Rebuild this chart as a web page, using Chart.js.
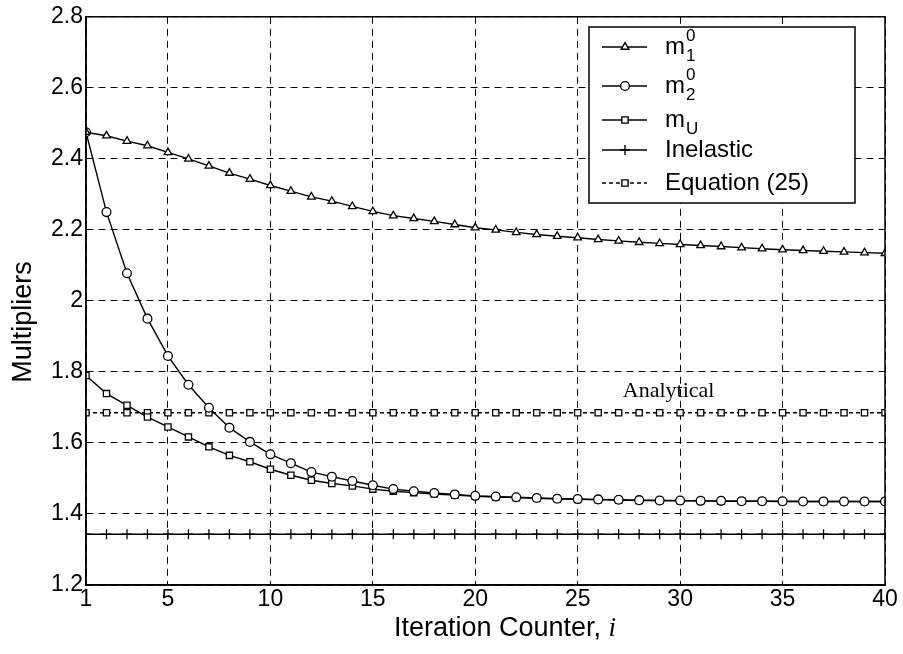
<!DOCTYPE html>
<html>
<head>
<meta charset="utf-8">
<title>Multipliers vs iteration</title>
<script src="https://cdn.jsdelivr.net/npm/chart.js@4/dist/chart.umd.min.js"></script>
<style>
  html, body { margin: 0; padding: 0; background: #fff; }
  #wrap { position: relative; width: 903px; height: 654px; }
</style>
</head>
<body>
<div id="wrap"><canvas id="chart" width="903" height="654"></canvas></div>
<script>
"use strict";

// ---- data ----
const iterations = [1, 2, 3, 4, 5, 6, 7, 8, 9, 10, 11, 12, 13, 14, 15, 16, 17, 18, 19, 20,
  21, 22, 23, 24, 25, 26, 27, 28, 29, 30, 31, 32, 33, 34, 35, 36, 37, 38, 39, 40];

const m1 = [2.475, 2.465, 2.450, 2.437, 2.418, 2.400, 2.380, 2.360, 2.343, 2.325,
  2.309, 2.293, 2.281, 2.266, 2.252, 2.240, 2.232, 2.224, 2.215, 2.206,
  2.200, 2.193, 2.187, 2.182, 2.178, 2.173, 2.169, 2.165, 2.162, 2.159,
  2.156, 2.153, 2.150, 2.147, 2.144, 2.142, 2.140, 2.138, 2.136, 2.134];

const m2 = [2.475, 2.250, 2.078, 1.950, 1.845, 1.764, 1.699, 1.643, 1.603, 1.568,
  1.543, 1.518, 1.505, 1.493, 1.481, 1.470, 1.464, 1.459, 1.455, 1.451,
  1.449, 1.447, 1.445, 1.443, 1.442, 1.441, 1.440, 1.439, 1.438, 1.438,
  1.437, 1.437, 1.436, 1.436, 1.436, 1.435, 1.435, 1.435, 1.435, 1.435];

const mU = [1.790, 1.739, 1.706, 1.673, 1.645, 1.617, 1.589, 1.565, 1.547, 1.526,
  1.509, 1.495, 1.486, 1.479, 1.470, 1.464, 1.460, 1.456, 1.453, 1.450,
  1.448, 1.446, 1.444, 1.443, 1.441, 1.440, 1.439, 1.438, 1.438, 1.437,
  1.437, 1.436, 1.436, 1.436, 1.435, 1.435, 1.435, 1.435, 1.435, 1.435];

const inelastic = [1.343, 1.343, 1.343, 1.343, 1.343, 1.343, 1.343, 1.343, 1.343, 1.343,
  1.343, 1.343, 1.343, 1.343, 1.343, 1.343, 1.343, 1.343, 1.343, 1.343,
  1.343, 1.343, 1.343, 1.343, 1.343, 1.343, 1.343, 1.343, 1.343, 1.343,
  1.343, 1.343, 1.343, 1.343, 1.343, 1.343, 1.343, 1.343, 1.343, 1.343];

const equation25 = [1.685, 1.685, 1.685, 1.685, 1.685, 1.685, 1.685, 1.685, 1.685, 1.685,
  1.685, 1.685, 1.685, 1.685, 1.685, 1.685, 1.685, 1.685, 1.685, 1.685,
  1.685, 1.685, 1.685, 1.685, 1.685, 1.685, 1.685, 1.685, 1.685, 1.685,
  1.685, 1.685, 1.685, 1.685, 1.685, 1.685, 1.685, 1.685, 1.685, 1.685];

const xTicks = [1, 5, 10, 15, 20, 25, 30, 35, 40];
const yTicks = [1.2, 1.4, 1.6, 1.8, 2, 2.2, 2.4, 2.6, 2.8];

const xTitle = "Iteration Counter, ";
const xTitleVar = "i";
const yTitle = "Multipliers";
const annotationText = "Analytical";
const annotationAt = { x: 27.2, y: 1.729 };

// legend rows: main text + optional subscript / superscript
const legendRows = [
  { main: "m", sub: "1", sup: "0", style: "triangle", dash: [] },
  { main: "m", sub: "2", sup: "0", style: "circle", dash: [] },
  { main: "m", sub: "U", sup: "", style: "rect", dash: [] },
  { main: "Inelastic", sub: "", sup: "", style: "cross", dash: [] },
  { main: "Equation (25)", sub: "", sup: "", style: "rect", dash: [4, 3] },
];

// ---- styling ----
const INK = "#000";
const SANS = "'Liberation Sans', Arial, sans-serif";
const SERIF = "'Liberation Serif', 'Times New Roman', serif";

function pairs(ys) {
  return iterations.map((x, i) => ({ x: x, y: ys[i] }));
}

function series(label, ys, style, dash) {
  return {
    label: label,
    data: pairs(ys),
    borderColor: INK,
    borderWidth: 1.4,
    borderDash: dash || [],
    backgroundColor: "#fff",
    pointStyle: style,
    pointRadius: style === "cross" ? 5 : 4.4,
    pointBorderColor: INK,
    pointBackgroundColor: "#fff",
    pointBorderWidth: 1.3,
    tension: 0,
    fill: false,
  };
}

// frame around the plot area + legend box + annotation + axis titles
const decorations = {
  id: "decorations",
  afterDraw(chart) {
    const ctx = chart.ctx;
    const a = chart.chartArea;
    const xs = chart.scales.x;
    const ys = chart.scales.y;

    ctx.save();
    ctx.strokeStyle = INK;
    ctx.lineWidth = 1.5;
    ctx.strokeRect(a.left, a.top, a.right - a.left, a.bottom - a.top);

    // "Analytical" note
    ctx.fillStyle = INK;
    ctx.font = "22px " + SERIF;
    ctx.textAlign = "left";
    ctx.textBaseline = "alphabetic";
    ctx.fillText(annotationText, xs.getPixelForValue(annotationAt.x), ys.getPixelForValue(annotationAt.y));

    // axis titles
    ctx.font = "27px " + SANS;
    ctx.textBaseline = "middle";
    const w1 = ctx.measureText(xTitle).width;
    ctx.font = "italic 27px " + SERIF;
    const w2 = ctx.measureText(xTitleVar).width;
    const tx = 505 - (w1 + w2) / 2;
    ctx.font = "27px " + SANS;
    ctx.fillText(xTitle, tx, 629);
    ctx.font = "italic 27px " + SERIF;
    ctx.fillText(xTitleVar, tx + w1, 629);

    ctx.save();
    ctx.translate(24, 322);
    ctx.rotate(-Math.PI / 2);
    ctx.font = "27px " + SANS;
    ctx.textAlign = "center";
    ctx.fillText(yTitle, 0, 0);
    ctx.restore();

    // legend
    const box = { x: 589, y: 27, w: 266, h: 176 };
    ctx.fillStyle = "#fff";
    ctx.fillRect(box.x, box.y, box.w, box.h);
    ctx.lineWidth = 1.5;
    ctx.strokeRect(box.x, box.y, box.w, box.h);

    const rowY = [47, 86, 120, 150, 183];
    legendRows.forEach((r, i) => {
      const y = rowY[i];
      ctx.strokeStyle = INK;
      ctx.lineWidth = 1.4;
      ctx.setLineDash(r.dash);
      ctx.beginPath();
      ctx.moveTo(602, y);
      ctx.lineTo(647, y);
      ctx.stroke();
      ctx.setLineDash([]);
      ctx.fillStyle = "#fff";
      Chart.helpers.drawPoint(ctx, {
        pointStyle: r.style,
        radius: r.style === "cross" ? 5 : 4.4,
        rotation: 0,
        borderWidth: 1.3,
      }, 625, y);

      ctx.fillStyle = INK;
      ctx.textAlign = "left";
      ctx.textBaseline = "middle";
      ctx.font = "24px " + SANS;
      ctx.fillText(r.main, 665, y);
      const mw = ctx.measureText(r.main).width;
      ctx.font = "17px " + SANS;
      if (r.sup) ctx.fillText(r.sup, 665 + mw + 1, y - 11);
      if (r.sub) ctx.fillText(r.sub, 665 + mw + 1, y + 9);
    });
    ctx.restore();
  },
};

const ctx = document.getElementById("chart").getContext("2d");
new Chart(ctx, {
  type: "line",
  data: {
    datasets: [
      series("m1^0", m1, "triangle"),
      series("m2^0", m2, "circle"),
      series("mU", mU, "rect"),
      series("Inelastic", inelastic, "cross"),
      series("Equation (25)", equation25, "rect", [4, 3]),
    ],
  },
  options: {
    responsive: false,
    animation: false,
    devicePixelRatio: 1,
    layout: { padding: { left: 0, right: 18, top: 16, bottom: 0 } },
    plugins: { legend: { display: false }, tooltip: { enabled: false } },
    scales: {
      x: {
        type: "linear",
        min: 1,
        max: 40,
        afterBuildTicks: (axis) => { axis.ticks = xTicks.map((v) => ({ value: v })); },
        afterFit: (axis) => { axis.height = 69; },
        ticks: { color: INK, font: { family: SANS, size: 23 }, padding: 1, maxRotation: 0, autoSkip: false },
        grid: { color: INK, lineWidth: 1, drawTicks: false },
        border: { display: true, color: INK, width: 1.5, dash: [7, 5] },
      },
      y: {
        type: "linear",
        min: 1.2,
        max: 2.8,
        afterBuildTicks: (axis) => { axis.ticks = yTicks.map((v) => ({ value: v })); },
        afterFit: (axis) => { axis.width = 86; },
        ticks: {
          color: INK,
          font: { family: SANS, size: 23 },
          padding: 3,
          autoSkip: false,
          callback: (v) => String(Math.round(v * 10) / 10),
        },
        grid: { color: INK, lineWidth: 1, drawTicks: false },
        border: { display: true, color: INK, width: 1.5, dash: [7, 5] },
      },
    },
  },
  plugins: [decorations],
});
</script>
</body>
</html>
